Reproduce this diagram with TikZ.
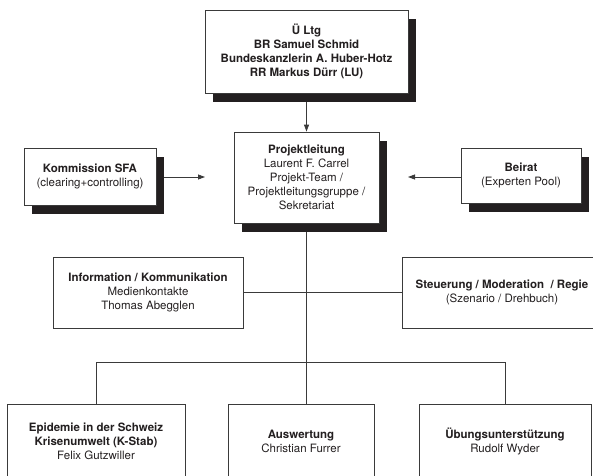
\documentclass[tikz,border=0pt]{standalone}
\usepackage{fontspec}
\setmainfont{TeX Gyre Heros}
\usetikzlibrary{arrows.meta,calc,shadows}

\definecolor{ink}{HTML}{231F20}
\definecolor{rule}{HTML}{3A3A3A}

\tikzset{
  box/.style={draw=rule, line width=0.8pt, fill=white, rectangle, align=center,
    inner sep=0pt, text=ink, font=\fontsize{11.5}{14}\selectfont},
  shadowbox/.style={box, drop shadow={shadow xshift=8pt, shadow yshift=-9pt,
    fill=ink, opacity=1}},
  link/.style={draw=rule, line width=0.8pt},
  arrowlink/.style={link, -{Triangle[length=7pt,width=5pt]}},
}

\begin{document}
\begin{tikzpicture}[x=1pt,y=-1pt]
  \useasboundingbox (0,0) rectangle (593,475);
  \clip (0,0) rectangle (593,475);

  % steering committee
  \node[shadowbox, minimum width=203pt, minimum height=83pt] (ltg) at (306.5,51.5)
    {\textbf{Ü Ltg}\\\textbf{BR Samuel Schmid}\\\textbf{Bundeskanzlerin A. Huber-Hotz}\\\textbf{RR Markus Dürr (LU)}};

  % project management
  \node[shadowbox, minimum width=145pt, minimum height=91pt] (pl) at (306.5,177.5)
    {\textbf{Projektleitung}\\Laurent F. Carrel\\Projekt-Team /\\Projektleitungsgruppe /\\Sekretariat};

  % side bodies
  \node[shadowbox, minimum width=132pt, minimum height=57pt] (sfa) at (90,176.5)
    {\textbf{Kommission SFA}\\(clearing+controlling)};
  \node[shadowbox, minimum width=120pt, minimum height=55pt] (beirat) at (521,175.5)
    {\textbf{Beirat}\\(Experten Pool)};

  % staff functions
  \node[box, minimum width=190pt, minimum height=71pt] (info) at (148,292.5)
    {\textbf{Information / Kommunikation}\\Medienkontakte\\Thomas Abegglen};
  \node[box, minimum width=200pt, minimum height=71pt] (steuer) at (502,292.5)
    {\textbf{Steuerung / Moderation \ / Regie}\\(Szenario / Drehbuch)};

  % working units
  \node[box, minimum width=178pt, minimum height=74pt] (epi) at (96,441)
    {\textbf{Epidemie in der Schweiz}\\\textbf{Krisenumwelt (K-Stab)}\\Felix Gutzwiller};
  \node[box, minimum width=146pt, minimum height=74pt] (ausw) at (301,441)
    {\textbf{Auswertung}\\Christian Furrer};
  \node[box, minimum width=172pt, minimum height=74pt] (uebung) at (505,441)
    {\textbf{Übungsunterstützung}\\Rudolf Wyder};

  % arrow ends and junctions
  \coordinate (sfain) at (205,177);
  \coordinate (beiin) at (408,177);
  \coordinate (plfoot) at ($(pl.south)+(0,9)$);
  \coordinate (midbus) at (306,291);
  \coordinate (bus) at (306,362);

  % connectors
  \draw[arrowlink] ($(ltg.south)+(0,9)$) -- (pl.north);
  \draw[arrowlink] ($(sfa.east)+(8,0.5)$) -- (sfain);
  \draw[arrowlink] ($(beirat.west)+(0,1.5)$) -- (beiin);
  \draw[link] (plfoot) -- (ausw.north -| plfoot);
  \draw[link] (info.east) -- (steuer.west);
  \draw[link] (epi.north) |- (bus) -| (uebung.north);
\end{tikzpicture}
\end{document}
